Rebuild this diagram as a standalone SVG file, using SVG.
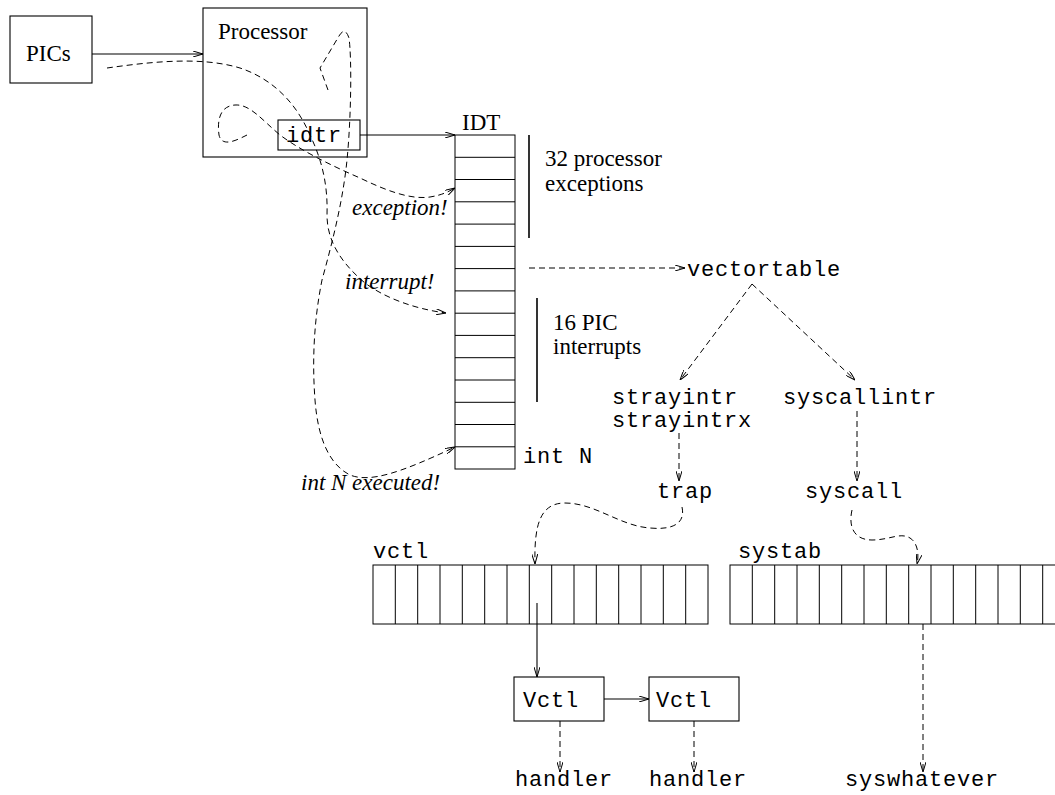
<svg xmlns="http://www.w3.org/2000/svg" width="1055" height="795" viewBox="0 0 1055 795">
<defs>
<marker id="ah" viewBox="0 0 10 6" refX="10" refY="3" markerWidth="10" markerHeight="6" markerUnits="userSpaceOnUse" orient="auto">
<path d="M0,0 L10,3 L0,6" fill="none" stroke="#000" stroke-width="1"/>
</marker>
<marker id="ahd" viewBox="0 0 10 6" refX="10" refY="3" markerWidth="10" markerHeight="6" markerUnits="userSpaceOnUse" orient="auto">
<path d="M0,0 L10,3 L0,6" fill="none" stroke="#000" stroke-width="1"/>
</marker>
</defs>
<style>
.box{fill:#fff;stroke:#000;stroke-width:1.1}
.cell{fill:none;stroke:#000;stroke-width:1}
.sol{fill:none;stroke:#000;stroke-width:1.1}
.dsh{fill:none;stroke:#000;stroke-width:1;stroke-dasharray:6,4}
.bar{stroke:#000;stroke-width:1.6}
.tm{font-family:"Liberation Serif",serif;font-size:23px;fill:#000}
.ti{font-family:"Liberation Serif",serif;font-size:23px;font-style:italic;fill:#000}
.cr{font-family:"Liberation Mono",monospace;font-size:22px;letter-spacing:0.8px;fill:#000}
</style>
<rect width="1055" height="795" fill="#fff"/>

<g id="pics"><rect class="box" x="10" y="16" width="82" height="67"/><text class="tm" x="26" y="61">PICs</text></g>
<g id="processor"><rect class="box" x="203" y="8" width="164" height="149"/><text class="tm" x="218" y="39">Processor</text></g>
<g id="idtr"><rect class="box" x="278" y="120" width="82" height="30"/><text class="cr" x="286" y="142">idtr</text></g>

<g id="idt">
<text class="tm" x="462" y="130">IDT</text>
<rect class="cell" x="455" y="135" width="60" height="334"/>
<path class="cell" d="M455,157.3H515M455,179.5H515M455,201.8H515M455,224.1H515M455,246.4H515M455,268.6H515M455,290.9H515M455,313.2H515M455,335.4H515M455,357.7H515M455,380H515M455,402.3H515M455,424.5H515M455,446.8H515"/>
<text class="cr" x="523" y="463">int N</text>
</g>
<g id="exc-label"><line class="bar" x1="529" y1="135" x2="529" y2="238"/><text class="tm" x="545" y="166">32 processor</text><text class="tm" x="545" y="191">exceptions</text></g>
<g id="pic-label"><line class="bar" x1="537" y1="298" x2="537" y2="402"/><text class="tm" x="553" y="330">16 PIC</text><text class="tm" x="553" y="354">interrupts</text></g>

<g id="vectortable"><text class="cr" x="687" y="276">vectortable</text></g>
<g id="strayintr"><text class="cr" x="612" y="404">strayintr</text><text class="cr" x="612" y="427">strayintrx</text></g>
<g id="syscallintr"><text class="cr" x="783" y="404">syscallintr</text></g>
<g id="trap"><text class="cr" x="657" y="498">trap</text></g>
<g id="syscall"><text class="cr" x="805" y="498">syscall</text></g>

<g id="vctl">
<text class="cr" x="373" y="558">vctl</text>
<rect class="cell" x="373" y="565" width="335" height="59"/>
<path class="cell" d="M395.3,565V624M417.7,565V624M440,565V624M462.3,565V624M484.7,565V624M507,565V624M529.3,565V624M551.7,565V624M574,565V624M596.3,565V624M618.7,565V624M641,565V624M663.3,565V624M685.7,565V624"/>
</g>
<g id="systab">
<text class="cr" x="738" y="558">systab</text>
<rect class="cell" x="730" y="565" width="340" height="59"/>
<path class="cell" d="M752.3,565V624M774.7,565V624M797,565V624M819.3,565V624M841.7,565V624M864,565V624M886.3,565V624M908.7,565V624M931,565V624M953.3,565V624M975.7,565V624M998,565V624M1020.3,565V624M1042.7,565V624"/>
</g>

<g id="vctl1"><rect class="box" x="514" y="677" width="90" height="44"/><text class="cr" x="523" y="707">Vctl</text></g>
<g id="vctl2"><rect class="box" x="649" y="677" width="90" height="44"/><text class="cr" x="656" y="707">Vctl</text></g>
<g id="handler1"><text class="cr" x="515" y="786">handler</text></g>
<g id="handler2"><text class="cr" x="649" y="786">handler</text></g>
<g id="syswhatever"><text class="cr" x="845" y="786">syswhatever</text></g>

<g id="labels">
<text class="ti" x="352" y="215">exception!</text>
<text class="ti" x="345" y="289">interrupt!</text>
<text class="ti" x="301" y="490">int N executed!</text>
</g>

<g id="connectors">
<path class="sol" d="M92,54H203" marker-end="url(#ah)"/>
<path class="sol" d="M360,135H455" marker-end="url(#ah)"/>
<path class="dsh" d="M107,68 C150,62 200,56 240,68 C270,78 295,100 310,135 C322,160 328,185 327,215 C327,240 340,262 365,283 C385,298 415,309 446,313" marker-end="url(#ahd)"/>
<path class="dsh" d="M247,135 C237,140 222,148 219,135 C217,120 220,106 235,105 C250,104 262,120 280,135 C300,150 330,165 360,178 C385,190 410,200 430,197 C442,195 448,192 455,188" marker-end="url(#ahd)"/>
<path class="dsh" d="M328,90 L320,68 L339,36 Q345,26 349,38 C352,60 351,120 347,160 C343,200 333,240 322,280 C314,320 312,360 315,400 C318,440 330,465 350,475 C370,483 400,473 455,447" marker-end="url(#ahd)"/>
<path class="dsh" d="M529,268H685" marker-end="url(#ahd)"/>
<path class="dsh" d="M752,284L680,380" marker-end="url(#ahd)"/>
<path class="dsh" d="M752,284L855,380" marker-end="url(#ahd)"/>
<path class="dsh" d="M679,433V481" marker-end="url(#ahd)"/>
<path class="dsh" d="M857,411V481" marker-end="url(#ahd)"/>
<path class="dsh" d="M682,507 C686,525 670,530 650,528 C620,526 595,503 565,503 C540,503 534,525 535,564" marker-end="url(#ahd)"/>
<path class="dsh" d="M852,510 C848,528 855,540 872,540 C890,540 900,532 910,538 C918,543 919,555 917,564" marker-end="url(#ahd)"/>
<path class="sol" d="M537,603V677" marker-end="url(#ah)"/>
<path class="sol" d="M604,699H649" marker-end="url(#ah)"/>
<path class="dsh" d="M560,721V772" marker-end="url(#ahd)"/>
<path class="dsh" d="M694,721V772" marker-end="url(#ahd)"/>
<path class="dsh" d="M923,624V772" marker-end="url(#ahd)"/>
</g>
</svg>
